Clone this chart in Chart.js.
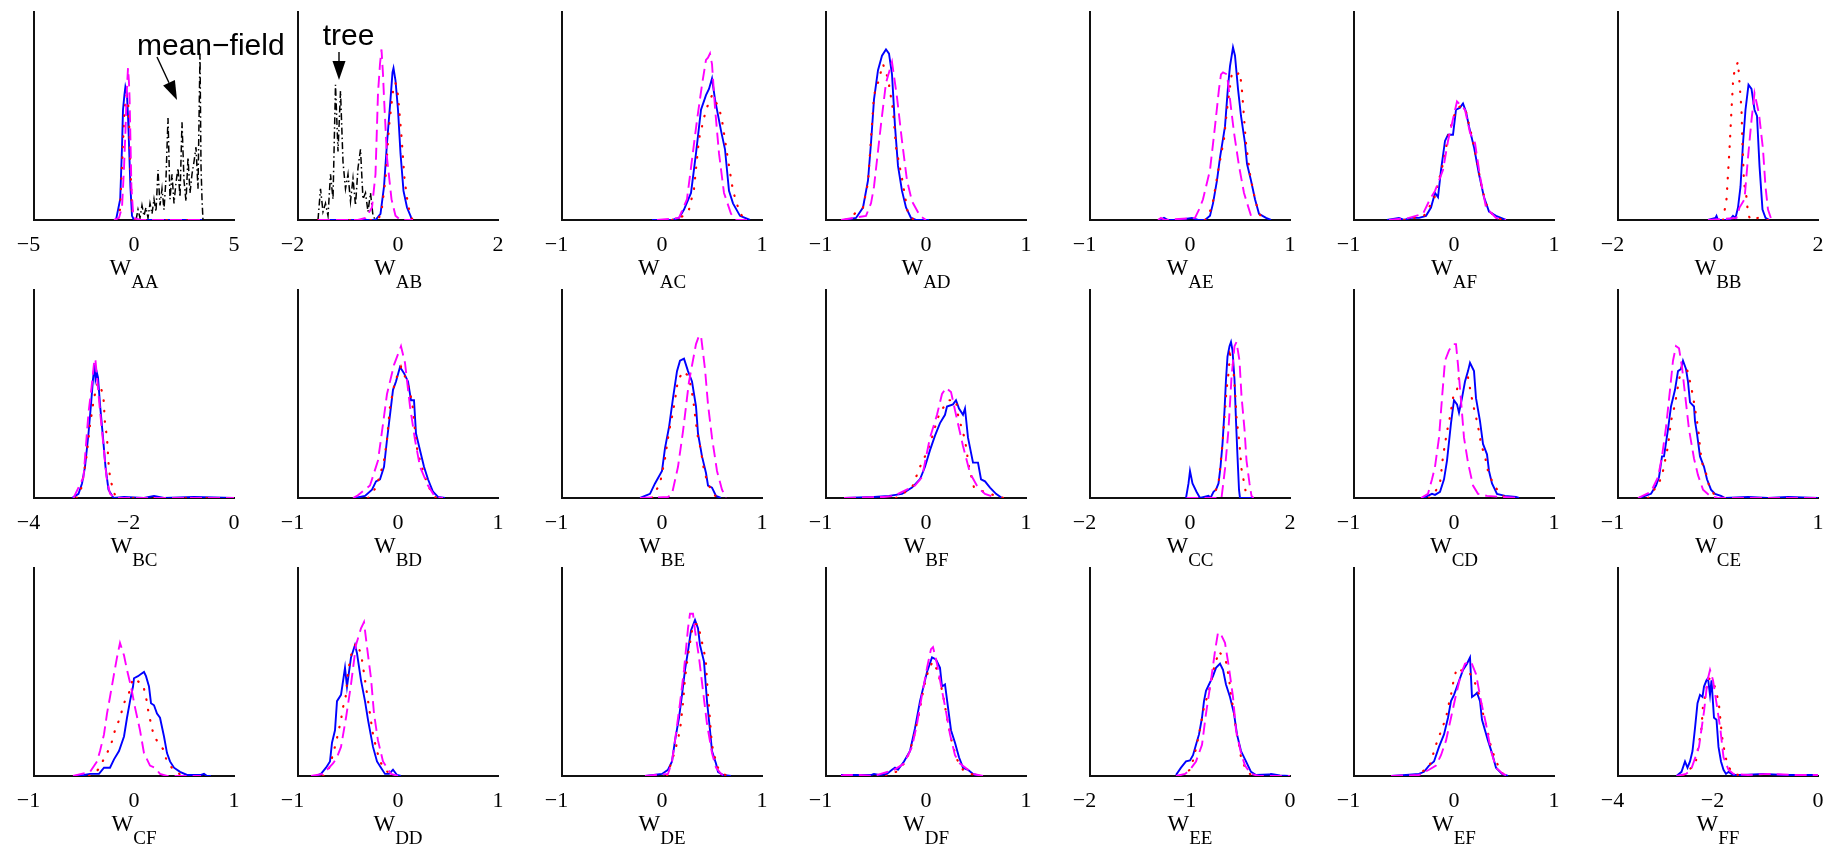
<!DOCTYPE html>
<html><head><meta charset="utf-8">
<script src="https://cdn.jsdelivr.net/npm/chart.js@4.4.1/dist/chart.umd.min.js"></script>
<style>
html,body{margin:0;padding:0;background:#fff;width:1837px;height:847px;overflow:hidden;position:relative}
canvas{position:absolute}
</style></head><body>
<script>
// ---------- DATA (x value, relative density) ----------
const subs = ['AA','AB','AC','AD','AE','AF','BB','BC','BD','BE','BF','CC','CD','CE','CF','DD','DE','DF','EE','EF','FF'];
const xRanges = [[-5,5],[-2,2],[-1,1],[-1,1],[-1,1],[-1,1],[-2,2],
                 [-4,0],[-1,1],[-1,1],[-1,1],[-2,2],[-1,1],[-1,1],
                 [-1,1],[-1,1],[-1,1],[-1,1],[-2,0],[-1,1],[-4,0]];
const xTicks = [[-5,0,5],[-2,0,2],[-1,0,1],[-1,0,1],[-1,0,1],[-1,0,1],[-2,0,2],
                [-4,-2,0],[-1,0,1],[-1,0,1],[-1,0,1],[-2,0,2],[-1,0,1],[-1,0,1],
                [-1,0,1],[-1,0,1],[-1,0,1],[-1,0,1],[-2,-1,0],[-1,0,1],[-4,-2,0]];

const wAA_solid=[[-0.9,0],[-0.69,0.1],[-0.6,0.35],[-0.55,0.53],[-0.48,0.6],[-0.43,0.64],[-0.38,0.62],[-0.35,0.6],[-0.3,0.5],[-0.27,0.42],[-0.18,0.16],[-0.1,0.02],[0,0],[3.4,0]];
const wAA_dash=[[-1.0,0],[-0.75,0.01],[-0.6,0.06],[-0.5,0.25],[-0.43,0.42],[-0.36,0.62],[-0.3,0.73],[-0.25,0.66],[-0.22,0.58],[-0.17,0.35],[-0.13,0.16],[-0.05,0.04],[0,0.01],[0.3,0],[3.4,0]];
const wAA_dot=[[-0.9,0],[-0.7,0.05],[-0.58,0.3],[-0.48,0.52],[-0.38,0.6],[-0.3,0.58],[-0.24,0.45],[-0.18,0.25],[-0.1,0.06],[0,0],[3.4,0]];
const wAA_meanfield=[[0.1,0],[0.2,0.05],[0.3,0.01],[0.4,0.07],[0.5,0.02],[0.6,0.06],[0.7,0.01],[0.8,0.08],[0.9,0.03],[1.0,0.1],[1.1,0.04],[1.2,0.24],[1.3,0.07],[1.4,0.15],[1.5,0.05],[1.6,0.2],[1.7,0.49],[1.8,0.1],[1.9,0.22],[2.0,0.08],[2.1,0.18],[2.2,0.25],[2.3,0.11],[2.4,0.47],[2.5,0.19],[2.6,0.09],[2.7,0.3],[2.8,0.13],[2.9,0.22],[3.0,0.28],[3.1,0.35],[3.2,0.15],[3.3,0.8],[3.35,0.26],[3.4,0.1],[3.45,0]];

const wAB_solid=[[-1.6,0],[-0.6,0],[-0.45,0],[-0.35,0.03],[-0.28,0.16],[-0.22,0.37],[-0.15,0.58],[-0.11,0.71],[-0.09,0.73],[-0.05,0.67],[0,0.53],[0.05,0.32],[0.11,0.14],[0.18,0.06],[0.25,0.02],[0.28,0],[0.3,0]];
const wAB_dash=[[-1.6,0],[-0.8,0],[-0.65,0.01],[-0.52,0.06],[-0.45,0.22],[-0.4,0.61],[-0.36,0.75],[-0.33,0.82],[-0.3,0.7],[-0.28,0.59],[-0.22,0.3],[-0.13,0.1],[-0.05,0.02],[0.05,0],[0.3,0]];
const wAB_dot=[[-1.6,0],[-0.4,0],[-0.33,0.04],[-0.25,0.2],[-0.18,0.45],[-0.1,0.62],[-0.05,0.66],[0,0.6],[0.07,0.4],[0.13,0.2],[0.2,0.07],[0.27,0.01],[0.3,0]];
const wAB_tree=[[-1.6,0],[-1.55,0.15],[-1.5,0.04],[-1.45,0.08],[-1.4,0.02],[-1.35,0.22],[-1.3,0.1],[-1.25,0.65],[-1.2,0.33],[-1.15,0.62],[-1.1,0.28],[-1.05,0.15],[-1.0,0.22],[-0.95,0.09],[-0.9,0.2],[-0.85,0.07],[-0.8,0.25],[-0.75,0.34],[-0.7,0.1],[-0.65,0.13],[-0.6,0.04],[-0.55,0.13],[-0.5,0.02],[-0.45,0]];

const wAC_solid=[[-0.1,0],[0.1,0],[0.17,0.01],[0.22,0.05],[0.29,0.13],[0.34,0.32],[0.39,0.53],[0.44,0.6],[0.47,0.63],[0.5,0.68],[0.53,0.58],[0.59,0.43],[0.63,0.34],[0.67,0.14],[0.71,0.08],[0.78,0.02],[0.88,0]];
const wAC_dash=[[-0.05,0],[0.17,0.01],[0.25,0.1],[0.3,0.29],[0.35,0.48],[0.4,0.65],[0.44,0.77],[0.46,0.78],[0.48,0.8],[0.5,0.75],[0.53,0.54],[0.57,0.32],[0.62,0.13],[0.69,0.03],[0.74,0],[0.85,0]];
const wAC_dot=[[0.1,0],[0.22,0.02],[0.27,0.05],[0.32,0.15],[0.37,0.39],[0.44,0.53],[0.5,0.6],[0.57,0.54],[0.6,0.48],[0.66,0.29],[0.71,0.14],[0.78,0.03],[0.85,0]];

const wAD_solid=[[-0.82,0],[-0.7,0.01],[-0.63,0.06],[-0.58,0.19],[-0.55,0.37],[-0.52,0.58],[-0.48,0.72],[-0.44,0.79],[-0.4,0.82],[-0.37,0.8],[-0.34,0.7],[-0.31,0.45],[-0.28,0.26],[-0.24,0.14],[-0.2,0.06],[-0.15,0.01],[-0.1,0],[0.03,0]];
const wAD_dash=[[-0.85,0],[-0.6,0.02],[-0.55,0.08],[-0.52,0.16],[-0.45,0.46],[-0.4,0.66],[-0.34,0.76],[-0.29,0.59],[-0.24,0.38],[-0.19,0.19],[-0.14,0.09],[-0.06,0.02],[0,0]];
const wAD_dot=[[-0.8,0],[-0.63,0.06],[-0.58,0.18],[-0.55,0.39],[-0.52,0.6],[-0.48,0.66],[-0.43,0.75],[-0.38,0.68],[-0.33,0.53],[-0.3,0.35],[-0.24,0.2],[-0.18,0.03],[-0.12,0]];

const wAE_solid=[[-0.3,0],[-0.26,0.01],[-0.22,0],[-0.12,0],[0.02,0.01],[0.08,0],[0.15,0],[0.2,0.02],[0.23,0.08],[0.27,0.19],[0.3,0.3],[0.35,0.45],[0.38,0.64],[0.4,0.74],[0.43,0.83],[0.45,0.79],[0.48,0.63],[0.51,0.5],[0.55,0.37],[0.57,0.27],[0.61,0.19],[0.65,0.1],[0.69,0.03],[0.76,0.01],[0.81,0]];
const wAE_dash=[[-0.32,0],[-0.29,0.01],[-0.25,0],[0.05,0.01],[0.1,0.06],[0.13,0.1],[0.2,0.24],[0.25,0.45],[0.29,0.63],[0.31,0.7],[0.33,0.71],[0.37,0.7],[0.4,0.58],[0.44,0.42],[0.49,0.26],[0.54,0.13],[0.61,0.02],[0.64,0]];
const wAE_dot=[[0.15,0],[0.22,0.06],[0.29,0.26],[0.34,0.39],[0.37,0.53],[0.4,0.64],[0.42,0.71],[0.47,0.7],[0.5,0.71],[0.52,0.62],[0.53,0.56],[0.55,0.43],[0.56,0.37],[0.6,0.22],[0.62,0.17],[0.65,0.1],[0.69,0.03],[0.75,0]];

const wAF_solid=[[-0.67,0],[-0.55,0.01],[-0.5,0],[-0.43,0.01],[-0.35,0.01],[-0.28,0.02],[-0.23,0.06],[-0.19,0.13],[-0.16,0.11],[-0.13,0.24],[-0.09,0.38],[-0.06,0.41],[-0.01,0.41],[0.02,0.53],[0.06,0.54],[0.09,0.56],[0.12,0.52],[0.15,0.45],[0.2,0.35],[0.25,0.22],[0.3,0.11],[0.35,0.04],[0.42,0.02],[0.52,0]];
const wAF_dash=[[-0.65,0],[-0.45,0.01],[-0.31,0.03],[-0.24,0.1],[-0.19,0.14],[-0.11,0.24],[-0.06,0.38],[0.03,0.57],[0.07,0.55],[0.11,0.53],[0.16,0.42],[0.21,0.37],[0.26,0.21],[0.32,0.06],[0.42,0.01],[0.52,0]];
const wAF_dot=[[-0.5,0],[-0.3,0.02],[-0.2,0.1],[-0.12,0.25],[-0.05,0.42],[0.02,0.53],[0.07,0.55],[0.12,0.52],[0.18,0.4],[0.23,0.28],[0.28,0.15],[0.34,0.05],[0.42,0.01],[0.5,0]];

const wBB_solid=[[-0.2,0],[-0.05,0.01],[-0.03,0.02],[0,0],[0.23,0],[0.3,0.02],[0.35,0.01],[0.4,0.06],[0.45,0.16],[0.5,0.37],[0.55,0.53],[0.61,0.65],[0.67,0.63],[0.73,0.53],[0.78,0.5],[0.83,0.26],[0.89,0.05],[0.95,0.01],[1.03,0]];
const wBB_dash=[[-0.2,0],[0.37,0.01],[0.43,0.06],[0.53,0.1],[0.6,0.3],[0.67,0.48],[0.73,0.61],[0.82,0.51],[0.9,0.34],[0.95,0.16],[1.0,0.05],[1.07,0]];
const wBB_dot=[[0.1,0],[0.17,0.1],[0.23,0.34],[0.27,0.53],[0.3,0.66],[0.33,0.72],[0.4,0.76],[0.43,0.66],[0.47,0.53],[0.49,0.36],[0.52,0.18],[0.57,0.11],[0.6,0.03],[0.65,0],[0.8,0.01],[1.0,0]];

const wBC_solid=[[-3.24,0],[-3.11,0.02],[-3.04,0.07],[-2.98,0.15],[-2.91,0.31],[-2.86,0.45],[-2.82,0.57],[-2.79,0.64],[-2.77,0.57],[-2.74,0.6],[-2.72,0.58],[-2.68,0.45],[-2.62,0.29],[-2.57,0.15],[-2.51,0.04],[-2.41,0],[-2.2,0.005],[-1.8,0],[-1.6,0.01],[-1.4,0],[-0.8,0.005],[0,0]];
const wBC_dash=[[-3.21,0],[-3.01,0.1],[-2.91,0.41],[-2.85,0.53],[-2.79,0.67],[-2.77,0.66],[-2.74,0.58],[-2.68,0.42],[-2.61,0.25],[-2.55,0.1],[-2.48,0.02],[-2.38,0],[0,0]];
const wBC_dot=[[-3.15,0],[-3.05,0.05],[-2.95,0.2],[-2.88,0.35],[-2.8,0.48],[-2.73,0.55],[-2.68,0.55],[-2.61,0.48],[-2.58,0.36],[-2.54,0.29],[-2.51,0.17],[-2.48,0.1],[-2.41,0.03],[-2.35,0],[0,0]];

const wBD_solid=[[-0.43,0],[-0.33,0.01],[-0.26,0.04],[-0.22,0.08],[-0.18,0.09],[-0.14,0.15],[-0.11,0.28],[-0.08,0.4],[-0.05,0.52],[-0.02,0.56],[0.02,0.63],[0.06,0.6],[0.1,0.56],[0.13,0.47],[0.16,0.47],[0.18,0.31],[0.22,0.23],[0.26,0.15],[0.3,0.09],[0.35,0.03],[0.4,0.005],[0.47,0]];
const wBD_dash=[[-0.45,0],[-0.41,0.01],[-0.28,0.06],[-0.2,0.18],[-0.16,0.32],[-0.11,0.5],[-0.04,0.64],[0.03,0.73],[0.07,0.65],[0.12,0.44],[0.17,0.28],[0.22,0.15],[0.3,0.06],[0.37,0.005],[0.45,0]];
const wBD_dot=[[-0.3,0],[-0.22,0.05],[-0.18,0.11],[-0.14,0.18],[-0.11,0.28],[-0.08,0.44],[-0.03,0.56],[0.03,0.63],[0.09,0.56],[0.12,0.51],[0.15,0.43],[0.16,0.37],[0.19,0.24],[0.22,0.18],[0.27,0.1],[0.31,0.05],[0.38,0]];

const wBE_solid=[[-0.22,0],[-0.12,0.02],[-0.07,0.07],[0,0.13],[0.03,0.24],[0.07,0.34],[0.11,0.48],[0.15,0.61],[0.18,0.66],[0.22,0.67],[0.26,0.61],[0.3,0.56],[0.34,0.44],[0.36,0.31],[0.4,0.2],[0.44,0.12],[0.46,0.06],[0.5,0.05],[0.54,0.01],[0.59,0]];
const wBE_dash=[[-0.22,0],[0.06,0.005],[0.1,0.02],[0.16,0.15],[0.21,0.32],[0.27,0.56],[0.34,0.74],[0.37,0.78],[0.39,0.78],[0.43,0.62],[0.46,0.45],[0.5,0.29],[0.55,0.13],[0.6,0.04],[0.64,0]];
const wBE_dot=[[-0.1,0],[-0.02,0.07],[0.03,0.19],[0.07,0.32],[0.1,0.39],[0.13,0.47],[0.16,0.57],[0.22,0.61],[0.27,0.58],[0.31,0.48],[0.34,0.36],[0.36,0.29],[0.39,0.23],[0.41,0.16],[0.45,0.08],[0.5,0.03],[0.55,0]];

const wBF_solid=[[-0.82,0],[-0.52,0.005],[-0.37,0.01],[-0.24,0.02],[-0.14,0.05],[-0.06,0.09],[-0.01,0.15],[0.04,0.23],[0.09,0.3],[0.14,0.36],[0.19,0.4],[0.21,0.44],[0.27,0.45],[0.3,0.47],[0.33,0.43],[0.37,0.4],[0.39,0.43],[0.42,0.29],[0.47,0.17],[0.52,0.17],[0.55,0.09],[0.59,0.08],[0.64,0.05],[0.7,0.02],[0.76,0]];
const wBF_dash=[[-0.82,0],[-0.42,0.005],[-0.32,0.01],[-0.11,0.06],[-0.04,0.1],[0.04,0.29],[0.11,0.4],[0.16,0.5],[0.2,0.53],[0.25,0.51],[0.3,0.4],[0.37,0.25],[0.44,0.12],[0.52,0.05],[0.59,0.02],[0.7,0]];
const wBF_dot=[[-0.3,0],[-0.14,0.05],[-0.06,0.15],[0,0.21],[0.04,0.26],[0.09,0.34],[0.13,0.4],[0.18,0.44],[0.22,0.47],[0.3,0.47],[0.32,0.4],[0.39,0.28],[0.43,0.15],[0.48,0.05],[0.52,0.04],[0.7,0.01],[0.78,0]];

const wCC_solid=[[-0.08,0],[-0.03,0.07],[0,0.13],[0.05,0.07],[0.13,0.03],[0.2,0],[0.37,0.01],[0.41,0],[0.47,0.03],[0.52,0.04],[0.57,0.07],[0.61,0.15],[0.65,0.26],[0.69,0.42],[0.72,0.57],[0.75,0.68],[0.79,0.73],[0.82,0.75],[0.85,0.71],[0.89,0.57],[0.92,0.37],[0.95,0.2],[0.98,0.04],[1.0,0],[1.27,0]];
const wCC_dash=[[-0.07,0],[0.63,0],[0.7,0.14],[0.77,0.33],[0.83,0.58],[0.89,0.73],[0.93,0.75],[0.99,0.66],[1.03,0.49],[1.09,0.33],[1.13,0.18],[1.19,0.07],[1.23,0.01],[1.27,0]];
const wCC_dot=[[0.4,0],[0.47,0.01],[0.57,0.07],[0.6,0.14],[0.65,0.26],[0.69,0.39],[0.71,0.45],[0.73,0.52],[0.77,0.6],[0.8,0.69],[0.85,0.66],[0.87,0.61],[0.9,0.52],[0.93,0.39],[0.99,0.26],[1.03,0.14],[1.13,0.01],[1.2,0]];

const wCD_solid=[[-0.31,0],[-0.22,0.02],[-0.19,0.015],[-0.14,0.03],[-0.1,0.09],[-0.07,0.18],[-0.03,0.36],[0,0.47],[0.03,0.45],[0.05,0.41],[0.08,0.48],[0.11,0.56],[0.14,0.61],[0.16,0.65],[0.2,0.61],[0.22,0.48],[0.26,0.37],[0.29,0.26],[0.33,0.21],[0.35,0.13],[0.38,0.07],[0.43,0.02],[0.51,0.01],[0.62,0.005],[0.65,0]];
const wCD_dash=[[-0.33,0],[-0.26,0.02],[-0.22,0.09],[-0.19,0.15],[-0.15,0.29],[-0.12,0.48],[-0.09,0.66],[-0.05,0.71],[-0.01,0.74],[0.02,0.74],[0.04,0.64],[0.07,0.47],[0.1,0.29],[0.14,0.17],[0.19,0.06],[0.24,0.02],[0.33,0.01],[0.65,0]];
const wCD_dot=[[-0.25,0],[-0.2,0.02],[-0.14,0.07],[-0.11,0.2],[-0.09,0.26],[-0.07,0.32],[-0.04,0.39],[-0.02,0.45],[0,0.51],[0.03,0.52],[0.05,0.58],[0.14,0.58],[0.19,0.45],[0.22,0.39],[0.25,0.32],[0.27,0.26],[0.31,0.2],[0.34,0.13],[0.39,0.07],[0.46,0.02],[0.52,0]];

const wCE_solid=[[-0.79,0],[-0.73,0.01],[-0.67,0.02],[-0.62,0.06],[-0.59,0.1],[-0.56,0.2],[-0.54,0.2],[-0.5,0.33],[-0.47,0.44],[-0.43,0.52],[-0.4,0.61],[-0.37,0.62],[-0.35,0.66],[-0.32,0.62],[-0.3,0.56],[-0.28,0.46],[-0.24,0.44],[-0.23,0.37],[-0.21,0.31],[-0.18,0.2],[-0.14,0.15],[-0.11,0.09],[-0.07,0.04],[-0.03,0.02],[0.03,0.01],[0.07,0],[0.3,0.005],[0.5,0],[0.7,0.005],[1,0]];
const wCE_dash=[[-0.8,0],[-0.67,0.03],[-0.6,0.1],[-0.56,0.2],[-0.52,0.34],[-0.48,0.52],[-0.45,0.66],[-0.42,0.73],[-0.39,0.72],[-0.36,0.63],[-0.33,0.5],[-0.29,0.33],[-0.24,0.19],[-0.2,0.11],[-0.15,0.04],[-0.08,0.01],[0,0],[1,0]];
const wCE_dot=[[-0.7,0],[-0.67,0.02],[-0.59,0.07],[-0.55,0.13],[-0.5,0.25],[-0.47,0.37],[-0.43,0.45],[-0.41,0.51],[-0.37,0.62],[-0.35,0.64],[-0.31,0.62],[-0.28,0.56],[-0.25,0.49],[-0.23,0.43],[-0.21,0.37],[-0.19,0.3],[-0.18,0.24],[-0.16,0.17],[-0.12,0.12],[-0.09,0.06],[-0.03,0.01],[0.05,0]];

const wCF_solid=[[-0.59,0],[-0.5,0.005],[-0.44,0.01],[-0.35,0.01],[-0.3,0.04],[-0.24,0.04],[-0.2,0.08],[-0.15,0.12],[-0.1,0.19],[-0.07,0.28],[-0.04,0.36],[-0.01,0.43],[0,0.47],[0.04,0.48],[0.07,0.49],[0.1,0.5],[0.12,0.48],[0.15,0.43],[0.17,0.35],[0.2,0.34],[0.23,0.3],[0.26,0.28],[0.3,0.19],[0.33,0.11],[0.36,0.07],[0.4,0.04],[0.46,0.02],[0.53,0.005],[0.67,0.005],[0.7,0.01],[0.73,0],[0.77,0]];
const wCF_dash=[[-0.61,0],[-0.44,0.02],[-0.37,0.07],[-0.34,0.12],[-0.3,0.2],[-0.27,0.3],[-0.24,0.38],[-0.2,0.49],[-0.17,0.57],[-0.14,0.64],[-0.1,0.58],[-0.07,0.51],[-0.03,0.43],[0.01,0.33],[0.06,0.22],[0.1,0.11],[0.16,0.05],[0.21,0.04],[0.26,0.01],[0.33,0],[0.67,0]];
const wCF_dot=[[-0.45,0],[-0.36,0.03],[-0.28,0.1],[-0.23,0.15],[-0.19,0.22],[-0.14,0.28],[-0.1,0.35],[-0.05,0.4],[-0.01,0.47],[0.09,0.44],[0.12,0.38],[0.14,0.32],[0.17,0.25],[0.2,0.19],[0.29,0.13],[0.33,0.07],[0.41,0.02],[0.5,0]];

const wDD_solid=[[-0.82,0],[-0.77,0.01],[-0.72,0.04],[-0.68,0.07],[-0.66,0.16],[-0.63,0.22],[-0.61,0.36],[-0.57,0.39],[-0.53,0.52],[-0.51,0.43],[-0.47,0.57],[-0.43,0.63],[-0.41,0.59],[-0.37,0.46],[-0.33,0.36],[-0.3,0.27],[-0.25,0.14],[-0.21,0.07],[-0.17,0.04],[-0.13,0.01],[-0.09,0.01],[-0.05,0.03],[-0.01,0.005],[0.03,0]];
const wDD_dash=[[-0.87,0],[-0.75,0.01],[-0.65,0.06],[-0.61,0.09],[-0.57,0.14],[-0.52,0.28],[-0.47,0.44],[-0.42,0.63],[-0.37,0.71],[-0.34,0.74],[-0.31,0.62],[-0.27,0.47],[-0.24,0.3],[-0.2,0.17],[-0.15,0.07],[-0.07,0.01],[0,0]];
const wDD_dot=[[-0.75,0],[-0.7,0.02],[-0.67,0.07],[-0.62,0.16],[-0.57,0.27],[-0.55,0.33],[-0.52,0.39],[-0.5,0.5],[-0.47,0.58],[-0.42,0.64],[-0.37,0.59],[-0.32,0.43],[-0.29,0.33],[-0.25,0.2],[-0.21,0.12],[-0.18,0.07],[-0.13,0.03],[-0.05,0]];

const wDE_solid=[[-0.17,0],[0,0.01],[0.06,0.03],[0.1,0.07],[0.13,0.17],[0.17,0.28],[0.2,0.39],[0.23,0.51],[0.26,0.6],[0.29,0.7],[0.33,0.75],[0.36,0.71],[0.38,0.63],[0.42,0.55],[0.45,0.36],[0.48,0.22],[0.5,0.12],[0.54,0.06],[0.56,0.02],[0.61,0.005],[0.69,0]];
const wDE_dash=[[-0.17,0],[-0.07,0.005],[0.06,0.01],[0.1,0.07],[0.13,0.17],[0.18,0.35],[0.22,0.51],[0.26,0.71],[0.28,0.78],[0.31,0.78],[0.33,0.7],[0.37,0.57],[0.41,0.41],[0.45,0.25],[0.5,0.11],[0.54,0.04],[0.59,0.01],[0.64,0]];
const wDE_dot=[[0.05,0],[0.13,0.12],[0.18,0.22],[0.21,0.35],[0.23,0.47],[0.26,0.58],[0.31,0.73],[0.36,0.73],[0.42,0.6],[0.44,0.54],[0.45,0.46],[0.46,0.39],[0.47,0.33],[0.48,0.27],[0.49,0.2],[0.51,0.12],[0.56,0.04],[0.61,0.01],[0.66,0]];

const wDF_solid=[[-0.85,0.005],[-0.7,0.005],[-0.54,0.006],[-0.52,0.01],[-0.47,0.005],[-0.39,0.01],[-0.34,0.03],[-0.31,0.04],[-0.28,0.03],[-0.22,0.07],[-0.16,0.12],[-0.11,0.23],[-0.06,0.36],[-0.03,0.42],[0.01,0.5],[0.06,0.57],[0.1,0.56],[0.14,0.52],[0.16,0.43],[0.19,0.44],[0.22,0.33],[0.25,0.22],[0.29,0.16],[0.33,0.09],[0.37,0.04],[0.42,0.03],[0.47,0.01],[0.54,0]];
const wDF_dash=[[-0.85,0],[-0.82,0.005],[-0.67,0.005],[-0.52,0],[-0.32,0.03],[-0.22,0.06],[-0.14,0.14],[-0.09,0.25],[-0.04,0.39],[0.01,0.52],[0.05,0.61],[0.07,0.62],[0.11,0.54],[0.16,0.41],[0.2,0.31],[0.24,0.2],[0.29,0.1],[0.34,0.06],[0.42,0.03],[0.47,0.01],[0.57,0]];
const wDF_dot=[[-0.4,0],[-0.3,0.02],[-0.2,0.07],[-0.13,0.17],[-0.07,0.3],[-0.02,0.43],[0.03,0.52],[0.07,0.55],[0.12,0.5],[0.17,0.39],[0.21,0.28],[0.26,0.16],[0.31,0.08],[0.37,0.03],[0.45,0.01],[0.52,0]];

const wEE_solid=[[-1.14,0.005],[-1.09,0.04],[-1.04,0.07],[-1.0,0.075],[-0.97,0.1],[-0.94,0.15],[-0.91,0.2],[-0.88,0.28],[-0.86,0.36],[-0.84,0.41],[-0.81,0.44],[-0.77,0.48],[-0.74,0.52],[-0.7,0.54],[-0.67,0.51],[-0.64,0.44],[-0.6,0.38],[-0.56,0.3],[-0.53,0.2],[-0.49,0.12],[-0.44,0.07],[-0.39,0.02],[-0.34,0.005],[-0.21,0.007],[-0.19,0.01],[-0.1,0.003],[-0.01,0]];
const wEE_dash=[[-1.14,0],[-1.05,0.01],[-1.0,0.03],[-0.94,0.07],[-0.88,0.15],[-0.84,0.3],[-0.79,0.46],[-0.75,0.6],[-0.72,0.69],[-0.69,0.68],[-0.65,0.64],[-0.61,0.52],[-0.57,0.38],[-0.54,0.22],[-0.49,0.11],[-0.45,0.05],[-0.39,0.01],[-0.31,0],[0,0]];
const wEE_dot=[[-1.1,0],[-1.0,0.03],[-0.96,0.09],[-0.91,0.2],[-0.86,0.33],[-0.81,0.41],[-0.76,0.52],[-0.71,0.6],[-0.64,0.55],[-0.61,0.47],[-0.59,0.39],[-0.56,0.3],[-0.54,0.22],[-0.51,0.15],[-0.49,0.09],[-0.44,0.03],[-0.38,0]];

const wEF_solid=[[-0.63,0],[-0.48,0.005],[-0.35,0.01],[-0.3,0.02],[-0.25,0.05],[-0.2,0.07],[-0.15,0.14],[-0.1,0.2],[-0.06,0.28],[-0.03,0.36],[0,0.39],[0.03,0.43],[0.06,0.47],[0.09,0.51],[0.13,0.54],[0.16,0.57],[0.18,0.38],[0.21,0.39],[0.23,0.4],[0.26,0.36],[0.28,0.27],[0.31,0.22],[0.34,0.17],[0.38,0.11],[0.42,0.04],[0.48,0.01],[0.54,0]];
const wEF_dash=[[-0.63,0],[-0.35,0.005],[-0.25,0.03],[-0.18,0.05],[-0.13,0.1],[-0.08,0.17],[-0.03,0.28],[0.02,0.39],[0.07,0.49],[0.11,0.54],[0.17,0.55],[0.22,0.49],[0.27,0.36],[0.32,0.25],[0.37,0.12],[0.42,0.04],[0.49,0.01],[0.54,0]];
const wEF_dot=[[-0.4,0],[-0.25,0.04],[-0.18,0.15],[-0.08,0.28],[-0.05,0.35],[-0.03,0.39],[0,0.47],[0.03,0.52],[0.1,0.5],[0.15,0.5],[0.2,0.46],[0.26,0.38],[0.29,0.3],[0.33,0.23],[0.37,0.14],[0.42,0.07],[0.5,0]];

const wFF_solid=[[-2.83,0],[-2.73,0.02],[-2.66,0.07],[-2.61,0.04],[-2.56,0.07],[-2.51,0.12],[-2.46,0.23],[-2.41,0.35],[-2.36,0.39],[-2.31,0.38],[-2.28,0.43],[-2.23,0.46],[-2.2,0.47],[-2.16,0.39],[-2.13,0.46],[-2.08,0.28],[-2.03,0.27],[-1.99,0.14],[-1.94,0.07],[-1.89,0.03],[-1.84,0.01],[-1.79,0.02],[-1.69,0.005],[-1.49,0.005],[-1.09,0.01],[-0.69,0.005],[-0.1,0.005],[0,0]];
const wFF_dash=[[-2.83,0],[-2.64,0.01],[-2.54,0.03],[-2.38,0.14],[-2.28,0.31],[-2.21,0.46],[-2.16,0.51],[-2.1,0.46],[-2.03,0.35],[-1.95,0.22],[-1.89,0.09],[-1.79,0.03],[-1.69,0.01],[-1.4,0.005],[-1.0,0.01],[-0.5,0.005],[0,0.005]];
const wFF_dot=[[-2.7,0],[-2.45,0.06],[-2.33,0.23],[-2.3,0.34],[-2.25,0.39],[-2.2,0.47],[-2.1,0.46],[-2.02,0.39],[-1.98,0.34],[-1.92,0.19],[-1.85,0.09],[-1.78,0.04],[-1.68,0.01],[-1.5,0]];

const solids=[wAA_solid,wAB_solid,wAC_solid,wAD_solid,wAE_solid,wAF_solid,wBB_solid,wBC_solid,wBD_solid,wBE_solid,wBF_solid,wCC_solid,wCD_solid,wCE_solid,wCF_solid,wDD_solid,wDE_solid,wDF_solid,wEE_solid,wEF_solid,wFF_solid];
const dashes=[wAA_dash,wAB_dash,wAC_dash,wAD_dash,wAE_dash,wAF_dash,wBB_dash,wBC_dash,wBD_dash,wBE_dash,wBF_dash,wCC_dash,wCD_dash,wCE_dash,wCF_dash,wDD_dash,wDE_dash,wDF_dash,wEE_dash,wEF_dash,wFF_dash];
const dots=[wAA_dot,wAB_dot,wAC_dot,wAD_dot,wAE_dot,wAF_dot,wBB_dot,wBC_dot,wBD_dot,wBE_dot,wBF_dot,wCC_dot,wCD_dot,wCE_dot,wCF_dot,wDD_dot,wDE_dot,wDF_dot,wEE_dot,wEF_dot,wFF_dot];
const extras={0:wAA_meanfield,1:wAB_tree};
// annotations: text + arrow in data units of the panel
const notes={0:{text:'mean\u2212field',tx:0.15,ty:0.793,ax:1.15,ay:0.784,bx:2.15,by:0.577},
             1:{text:'tree',tx:-1.506,ty:0.841,ax:-1.18,ay:0.808,bx:-1.18,by:0.673}};

// ---------- LAYOUT ----------
const GRID={left0:34,dx:264,top0:12,dy:278,w:200,h:208};
const PAD={l:30,r:60,t:6,b:32};
const XAXIS_H=40;
const pts=a=>a.map(([x,y])=>({x,y}));
// negative labels: the digit sits on the tick, the minus hangs to the left
const fmtTick=v=>v<0?'\u2212'+Math.abs(v)+'  ':String(v);

subs.forEach((sub,i)=>{
  const col=i%7,row=Math.floor(i/7);
  const cv=document.createElement('canvas');
  const W=PAD.l+GRID.w+PAD.r,H=PAD.t+GRID.h+XAXIS_H+PAD.b;
  cv.width=W;cv.height=H;
  cv.style.left=(GRID.left0+col*GRID.dx-PAD.l)+'px';
  cv.style.top=(GRID.top0+row*GRID.dy-PAD.t)+'px';
  cv.style.width=W+'px';cv.style.height=H+'px';
  document.body.appendChild(cv);
  const ds=[
    {data:pts(dashes[i]),borderColor:'#ff00ff',borderWidth:1.9,borderDash:[12,6]},
    {data:pts(dots[i]),borderColor:'#ff0000',borderWidth:2.2,borderDash:[0.5,10],borderCapStyle:'round'},
    {data:pts(solids[i]),borderColor:'#0000ff',borderWidth:1.9}
  ];
  if(extras[i]) ds.push({data:pts(extras[i]),borderColor:'#000',borderWidth:1.5,borderDash:[7,3,1.5,3]});
  ds.forEach(d=>{d.pointRadius=0;d.tension=0;d.fill=false;});
  const ticks=xTicks[i];
  new Chart(cv,{
    type:'line',
    data:{datasets:ds},
    options:{
      responsive:false,animation:false,devicePixelRatio:1,events:[],
      layout:{padding:{left:PAD.l,right:PAD.r,top:PAD.t,bottom:PAD.b}},
      plugins:{legend:{display:false},tooltip:{enabled:false}},
      scales:{
        x:{type:'linear',min:xRanges[i][0],max:xRanges[i][1],
           afterBuildTicks:s=>{s.ticks=ticks.map(v=>({value:v}));},
           afterFit:s=>{s.height=XAXIS_H;},
           grid:{display:false,drawTicks:false},
           border:{display:true,color:'#111',width:2},
           ticks:{font:{family:'Liberation Serif',size:22},color:'#000',padding:12,maxRotation:0,autoSkip:false,
                  callback:fmtTick}},
        y:{type:'linear',min:0,max:1,
           afterFit:s=>{s.width=0;},
           grid:{display:false,drawTicks:false},
           border:{display:true,color:'#111',width:2},
           ticks:{display:false}}
      }
    },
    plugins:[{id:'deco',afterDraw(chart){
      const ctx=chart.ctx,a=chart.chartArea;
      ctx.save();
      ctx.fillStyle='#000';ctx.textBaseline='alphabetic';ctx.textAlign='left';
      ctx.font='23px "Liberation Serif"';
      const wW=ctx.measureText('W').width;
      ctx.font='19px "Liberation Serif"';
      const wS=ctx.measureText(sub).width;
      const cx=(a.left+a.right)/2,x0=cx-(wW+wS)/2;
      ctx.font='23px "Liberation Serif"';
      ctx.fillText('W',x0,a.bottom+55);
      ctx.font='19px "Liberation Serif"';
      ctx.fillText(sub,x0+wW,a.bottom+67.5);
      const n=notes[i];
      if(n){
        const xs=chart.scales.x,ys=chart.scales.y;
        ctx.font='30px "Liberation Sans"';
        ctx.fillText(n.text,xs.getPixelForValue(n.tx),ys.getPixelForValue(n.ty));
        const x1=xs.getPixelForValue(n.ax),y1=ys.getPixelForValue(n.ay);
        const x2=xs.getPixelForValue(n.bx),y2=ys.getPixelForValue(n.by);
        const dx=x2-x1,dy=y2-y1,L=Math.hypot(dx,dy),ux=dx/L,uy=dy/L;
        const hl=19,hw=6.5;
        const bx=x2-ux*hl,by=y2-uy*hl;
        ctx.strokeStyle='#000';ctx.lineWidth=1.4;
        ctx.beginPath();ctx.moveTo(x1,y1);ctx.lineTo(bx,by);ctx.stroke();
        ctx.beginPath();ctx.moveTo(x2,y2);
        ctx.lineTo(bx-uy*hw,by+ux*hw);ctx.lineTo(bx+uy*hw,by-ux*hw);ctx.closePath();ctx.fill();
      }
      ctx.restore();
    }}]
  });
});
</script>
</body></html>
